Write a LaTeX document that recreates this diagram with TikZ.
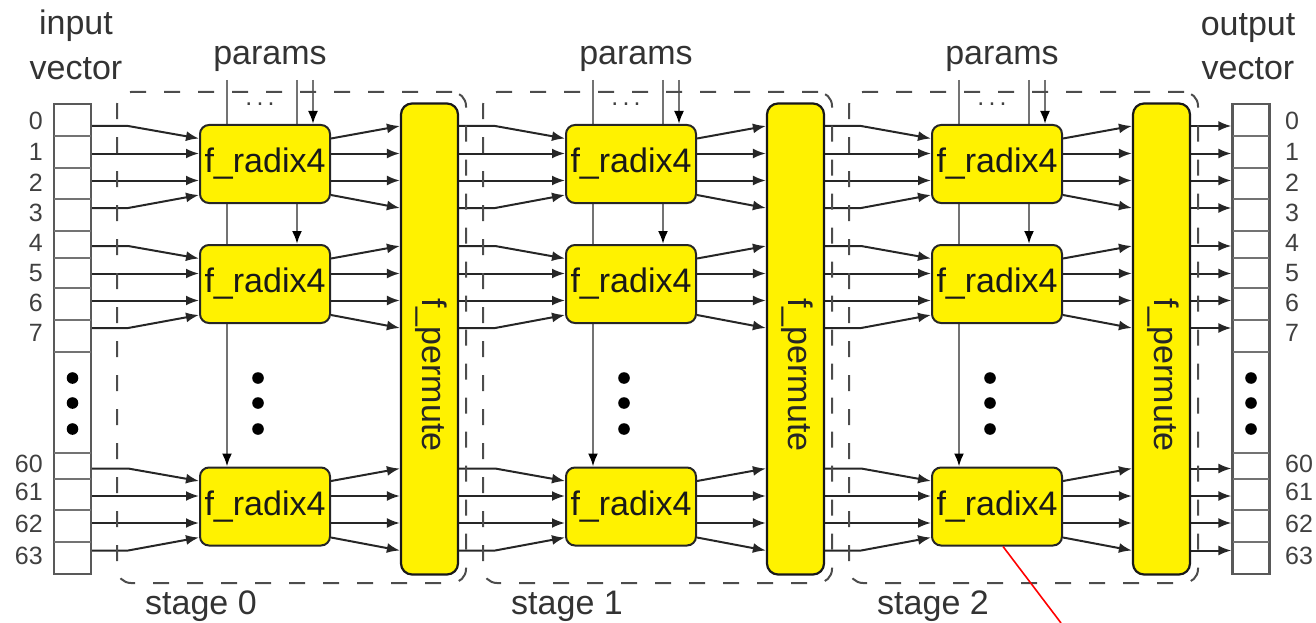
\documentclass[tikz,border=0pt]{standalone}
\usepackage{fontspec}
\setmainfont{Liberation Sans}
\usetikzlibrary{arrows.meta,calc,backgrounds}
\begin{document}
\begin{tikzpicture}[x=1pt,y=-1pt,
  lbl/.style={font=\fontsize{34}{44}\selectfont, text=black!80, inner sep=0pt},
  num/.style={font=\fontsize{25}{28}\selectfont, text=black!75, inner sep=0pt},
  radix/.style={draw=black!85, fill=yellow, line width=2pt, rounded corners=9pt,
    minimum width=130pt, minimum height=78pt, inner sep=0pt, text=black!90,
    font=\fontsize{34}{40}\selectfont},
  perm/.style={draw=black!90, fill=yellow, line width=2.2pt, rounded corners=11pt,
    minimum width=57pt, minimum height=471pt, inner sep=0pt},
  plabel/.style={font=\fontsize{34}{40}\selectfont, rotate=-90, inner sep=0pt, text=black!85},
  conn/.style={draw=black!85, line width=2pt, -{Latex[length=13pt,width=10pt]}},
  parline/.style={draw=black!55, line width=2.2pt, -{Latex[length=13pt,width=10pt,color=black]}},
  stagebox/.style={draw=black!70, line width=2pt, dash pattern=on 16pt off 18pt,
    rounded corners=14pt, minimum width=349pt, minimum height=491pt, inner sep=0pt},
  vecbox/.style={draw=black!65, line width=2.2pt, minimum width=37pt, minimum height=470pt, inner sep=0pt},
  vec/.style={draw=black!55, line width=2.2pt},
  smalldots/.style={font=\fontsize{25}{28}\selectfont, text=black!75, inner sep=0pt},
]
\useasboundingbox (0,0) rectangle (1316,623);

% ---------- vectors ----------
\node[vecbox] (VIN) at (72.5,339) {};
\node[vecbox] (VOUT) at (1251,339) {};
\foreach \xa/\xb in {54/91, 1233/1269} {
  \foreach \y in {136,168,199,231,258,288,320,352,453,479,510,542}
    \draw[vec] (\xa,\y) -- (\xb,\y);
  \foreach \y in {378,403,429}
    \fill[black] ({(\xa+\xb)/2},\y) circle (5.8);
}
\foreach \t/\y in {0/121,1/152,2/183,3/213,4/243,5/273,6/303,7/333,60/464,61/492,62/524,63/556} {
  \node[num, anchor=east] (li\t) at (43,\y) {\t};
  \node[num, anchor=west] (lo\t) at (1285,\y) {\t};
}
\node[lbl, anchor=base] (tin1) at (76,35) {input};
\node[lbl, anchor=base] (tin2) at (76,80) {vector};
\node[lbl, anchor=base] (tout1) at (1248,36) {output};
\node[lbl, anchor=base] (tout2) at (1248,80) {vector};

% ---------- stages ----------
\foreach \s in {0,1,2} {
  \pgfmathsetmacro\dx{366*\s}
  \node[stagebox] (S\s) at (291.5+\dx,337.5) {};
  \node[perm] (P\s) at (429.5+\dx,339) {};
  \node[plabel] (PT\s) at (431+\dx,375) {f\_permute};
  \node[lbl, anchor=base] (PA\s) at (270+\dx,65) {params};
  \node[lbl, anchor=base] (ST\s) at (201+\dx,614) {stage \s};
  \node[smalldots] (DD\s) at (260+\dx,104) {.\,.\,.};
  \foreach \k/\c in {1/167,2/287,3/509.5}
    \node[radix] (R\s-\k) at (265+\dx,\c-3) {f\_radix4};
  \foreach \y in {378,403,429}
    \fill[black] (258+\dx,\y) circle (5.8);
}

% row and port levels
\foreach \k/\c in {1/167,2/287,3/509.5} {
  \foreach \j/\r/\p in {1/-41/-28.5, 2/-13.5/-13.5, 3/13.5/13.5, 4/41/28} {
    \coordinate (y-\k-\j) at (0,\c+\r);
    \coordinate (q-\k-\j) at (0,\c+\p);
  }
}

\begin{pgfonlayer}{background}
\foreach \s in {0,1,2} {
  \pgfmathsetmacro\dx{366*\s}
  \coordinate (pp\s-1) at (313+\dx,80);
  \coordinate (pp\s-2) at (297+\dx,80);
  \coordinate (pp\s-3) at (227+\dx,80);
  \foreach \k in {1,2,3}
    \draw[parline] (pp\s-\k) -- (pp\s-\k |- R\s-\k.north);
  \ifnum\s=0 \def\src{VIN}\else \pgfmathtruncatemacro\sp{\s-1}\edef\src{P\sp}\fi
  \foreach \k in {1,2,3} {
    \foreach \j in {1,2,3,4} {
      \draw[conn] (\src.east |- y-\k-\j) -- ++(36,0) -- (R\s-\k.west |- q-\k-\j);
      \draw[conn] (R\s-\k.east |- q-\k-\j) -- (P\s.west |- y-\k-\j);
    }
  }
}
\foreach \k in {1,2,3}
  \foreach \j in {1,2,3,4}
    \draw[conn] (P2.east |- y-\k-\j) -- (VOUT.west |- y-\k-\j);
\end{pgfonlayer}

% annotation
\coordinate (redend) at (1061,623);
\draw[red, line width=1.6pt] ($(R2-3.south)+(6,0)$) -- (redend);
\end{tikzpicture}
\end{document}
